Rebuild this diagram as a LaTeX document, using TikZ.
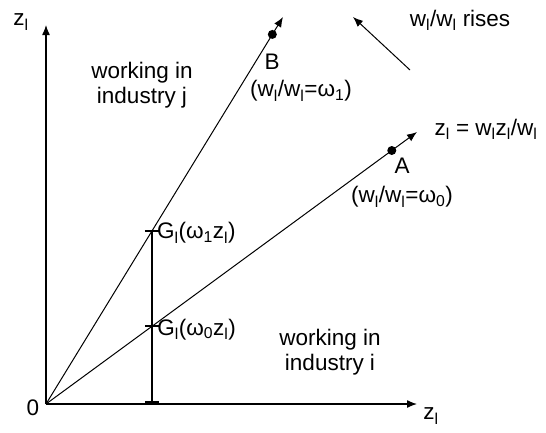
\documentclass[tikz,border=0pt]{standalone}
\usepackage{fontspec}
\setmainfont{Liberation Sans}
\usetikzlibrary{arrows.meta,calc}
\newcommand{\sbl}{\textsubscript{l}}
\begin{document}
\begin{tikzpicture}[x=1pt,y=-1pt,
  every node/.style={font=\fontsize{22.5}{25}\selectfont, inner sep=0pt, align=center},
  axis/.style={line width=1.3pt,-{Latex[length=10pt,width=8pt]}},
  ray/.style={line width=1pt,-{Latex[length=10pt,width=8pt]}},
  tick/.style={line width=1.8pt},
  dot/.style={circle,fill=black,minimum size=9pt,inner sep=0pt}]
\useasboundingbox (0,0) rectangle (546,432);
% axes
\coordinate (O) at (46,404);
\coordinate (Ytip) at (46,25);
\coordinate (Xtip) at (417,404);
\coordinate (Btip) at (283,17);
\coordinate (Atip) at (417,132);
\draw[axis] (O) -- (Ytip);
\draw[axis] (O) -- (Xtip);
\draw[ray] (O) -- (Btip);
\draw[ray] (O) -- (Atip);
% dots
\node[dot] (B) at ($(O)!0.955!(Btip)$) {};
\node[dot] (A) at ($(O)!0.932!(Atip)$) {};
% G points
\coordinate (G1) at ($(O)!0.447!(Btip)$);
\coordinate (G0) at ($(O)!0.286!(Atip)$);
\coordinate (Gb) at (G1 |- O);
\draw[line width=1.3pt] (Gb) -- (G1);
\draw[tick] ($(G1)+(-7,0)$) -- ($(G1)+(7,0)$);
\draw[tick] ($(G0)+(-7,0)$) -- ($(G0)+(7,0)$);
\fill ($(Gb)+(-7,-3.5)$) rectangle ($(Gb)+(7,0.5)$);
% labels
\node[anchor=west] (LG1) at ($(G1)+(5,2)$) {G\sbl(ω\textsubscript{1}z\sbl)};
\node[anchor=west] (LG0) at ($(G0)+(5,3)$) {G\sbl(ω\textsubscript{0}z\sbl)};
\node (LB) at (272,62) {B};
\node (LBw) at (301,91) {(w\sbl/w\sbl=ω\textsubscript{1})};
\node (LA) at (402,166) {A};
\node (LAw) at (402,197) {(w\sbl/w\sbl=ω\textsubscript{0})};
\node (Lray) at (486,129) {z\sbl{} = w\sbl z\sbl/w\sbl};
\node (Lrise) at (460,20) {w\sbl/w\sbl{} rises};
\coordinate (R1) at (410,70);
\coordinate (R2) at (353,17);
\draw[ray] (R1) -- (R2);
\node (L0) at (33,408) {0};
\node (LY) at (21,22) {z\sbl};
\node (LX) at (431,416) {z\sbl};
\node (Lj) at (142,85) {working in\\industry j};
\node (Li) at (330,352) {working in\\industry i};
\end{tikzpicture}
\end{document}
